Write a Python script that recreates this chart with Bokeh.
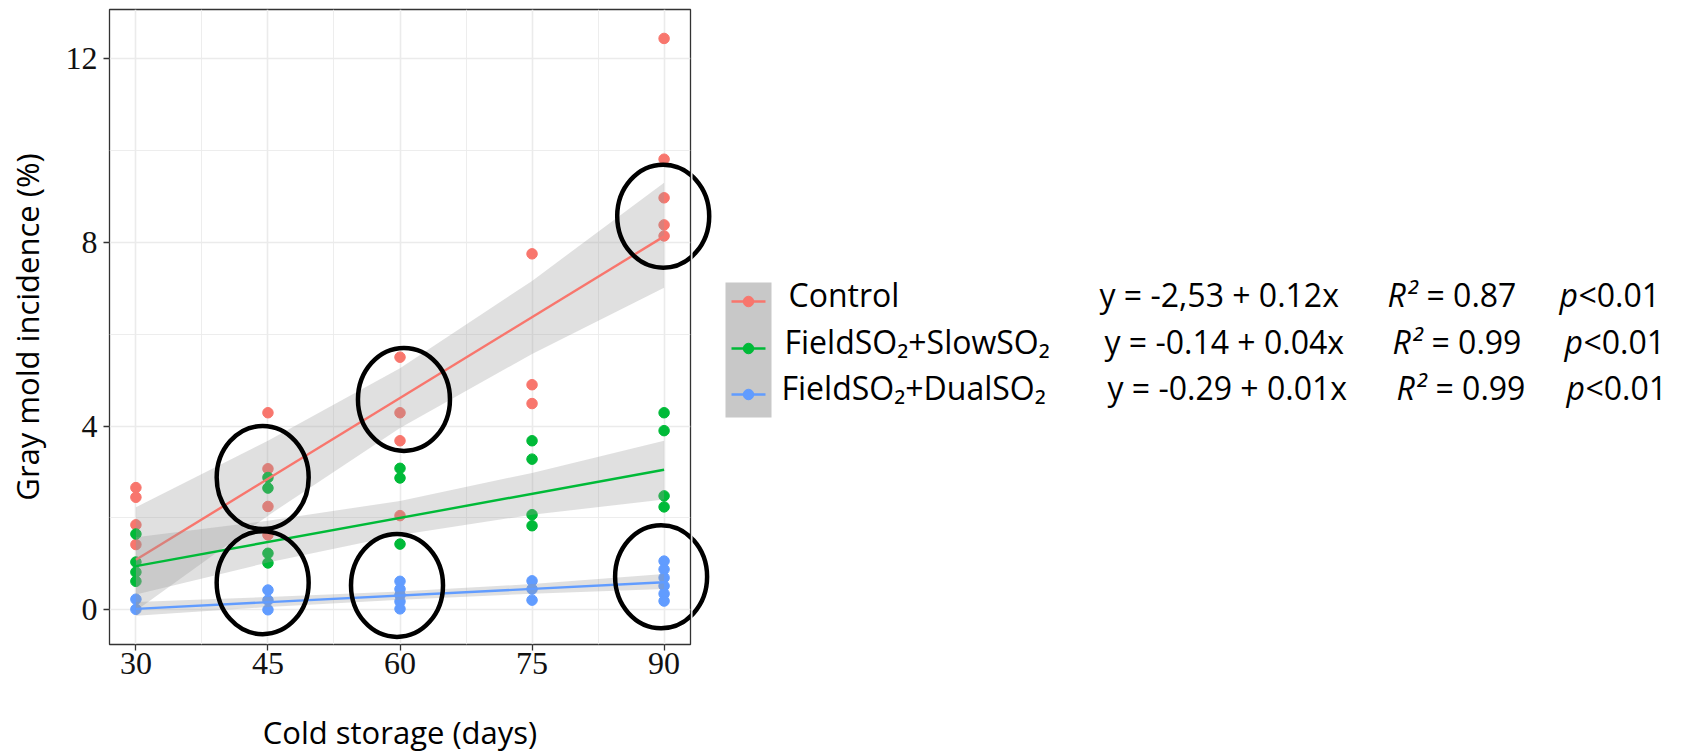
from bokeh.plotting import figure
from bokeh.layouts import row
from bokeh.models import Range1d, FixedTicker, Label
from bokeh.embed import file_html
from bokeh.resources import INLINE

# ---------------- data ----------------
days = [30, 45, 60, 75, 90]
x_minor = [37.5, 52.5, 67.5, 82.5]
y_ticks = [0, 4, 8, 12]
y_minor = [2, 6, 10]

control_x = [30, 30, 30, 30, 45, 45, 45, 45, 60, 60, 60, 60, 75, 75, 75, 90, 90, 90, 90, 90]
control_y = [2.66, 2.45, 1.85, 1.42, 4.29, 3.07, 2.25, 1.63, 5.50, 4.29, 3.68, 2.05,
             7.75, 4.90, 4.49, 12.44, 9.81, 8.97, 8.38, 8.14]
slow_x = [30, 30, 30, 30, 45, 45, 45, 45, 60, 60, 60, 75, 75, 75, 75, 90, 90, 90, 90]
slow_y = [1.65, 1.04, 0.82, 0.62, 2.88, 2.65, 1.23, 1.02, 3.08, 2.87, 1.43,
          3.68, 3.28, 2.07, 1.83, 4.29, 3.90, 2.48, 2.24]
dual_x = [30, 30, 45, 45, 45, 60, 60, 60, 60, 60, 75, 75, 75, 90, 90, 90, 90, 90, 90]
dual_y = [0.23, 0.01, 0.43, 0.21, 0.0, 0.62, 0.45, 0.32, 0.18, 0.02,
          0.63, 0.45, 0.21, 1.06, 0.88, 0.70, 0.52, 0.35, 0.19]

# fitted lines (ends) and confidence ribbons at each storage day
fit_x = [30, 90]
control_fit = [1.09, 8.13]
slow_fit = [0.95, 3.05]
dual_fit = [0.02, 0.60]
control_lo = [-0.02, 2.05, 3.96, 5.57, 7.01]
control_hi = [2.23, 3.68, 5.26, 7.16, 9.30]
slow_lo = [0.33, 1.03, 1.63, 2.07, 2.40]
slow_hi = [1.58, 1.94, 2.37, 2.98, 3.68]
dual_lo = [-0.13, 0.06, 0.22, 0.35, 0.45]
dual_hi = [0.17, 0.28, 0.40, 0.56, 0.78]

# hand-drawn rings (centre in data units)
ring_x = [44.4, 60.45, 44.4, 59.66, 89.9, 89.66]
ring_y = [2.88, 4.58, 0.59, 0.53, 8.57, 0.72]

groups = ["Control", "FieldSO\u2082+SlowSO\u2082", "FieldSO\u2082+DualSO\u2082"]
equations = ["y = -2,53 + 0.12x", "y = -0.14 + 0.04x", "y = -0.29 + 0.01x"]
r2_values = ["0.87", "0.99", "0.99"]
p_values = ["<0.01", "<0.01", "<0.01"]

# ---------------- styling / layout ----------------
RED, GREEN, BLUE = "#F8766D", "#00BA38", "#619CFF"
COLORS = [RED, GREEN, BLUE]
SANS = "Open Sans"
SERIF = "Liberation Serif"

X0, X1 = 27, 93
Y0, Y1 = -0.756, 13.07
MARGIN_X = 4           # observed horizontal page offset of the layout
FRAME_L, FRAME_T, FRAME_W, FRAME_H = 109, 9, 581, 635
FIG_H = 750
BORDER_B = FIG_H - FRAME_T - FRAME_H
GAP = 2
RIGHT_W = 977
PX_PER_DAY = FRAME_W / (X1 - X0)

yr = Range1d(Y0, Y1)

p = figure(width=FRAME_L + FRAME_W + GAP, height=FIG_H,
           frame_width=FRAME_W, frame_height=FRAME_H,
           min_border_left=FRAME_L, min_border_top=FRAME_T,
           min_border_right=GAP, min_border_bottom=BORDER_B,
           x_range=Range1d(X0, X1), y_range=yr,
           output_backend="svg", toolbar_location=None)

p.background_fill_color = "white"
p.border_fill_color = "white"
p.outline_line_color = "#333333"
p.outline_line_width = 1.3

p.xaxis.ticker = FixedTicker(ticks=days, minor_ticks=x_minor)
p.yaxis.ticker = FixedTicker(ticks=y_ticks, minor_ticks=y_minor)
for g in (p.xgrid, p.ygrid):
    g.grid_line_color = "#EBEBEB"
    g.grid_line_width = 1.6
    g.minor_grid_line_color = "#EBEBEB"
    g.minor_grid_line_width = 0.9

for ax in (p.xaxis, p.yaxis):
    ax.axis_line_color = None
    ax.major_tick_line_color = "#333333"
    ax.major_tick_line_width = 1.3
    ax.major_tick_in = 0
    ax.major_tick_out = 6
    ax.minor_tick_line_color = None
    ax.major_label_text_font = SERIF
    ax.major_label_text_font_size = "32px"
    ax.major_label_text_color = "#111111"
    ax.axis_label_text_font = SANS
    ax.axis_label_text_font_size = "31px"
    ax.axis_label_text_font_style = "normal"
    ax.axis_label_text_color = "#000000"

p.xaxis.axis_label = "Cold storage (days)"
p.yaxis.axis_label = "Gray mold incidence (%)"
p.xaxis.major_label_standoff = 2
p.yaxis.major_label_standoff = 6
p.xaxis.axis_label_standoff = 34
p.yaxis.axis_label_standoff = 15

# points first (as in ggplot), then smooths
p.scatter(control_x, control_y, size=10.5, color=RED)
p.scatter(slow_x, slow_y, size=10.5, color=GREEN)
p.scatter(dual_x, dual_y, size=10.5, color=BLUE)

for lo, hi, fit, col in ((control_lo, control_hi, control_fit, RED),
                         (slow_lo, slow_hi, slow_fit, GREEN),
                         (dual_lo, dual_hi, dual_fit, BLUE)):
    p.varea(x=days, y1=lo, y2=hi, fill_color="#999999", fill_alpha=0.3)
    p.line(fit_x, fit, line_color=col, line_width=2.4)

RING = dict(width=92, height=103, width_units="screen", height_units="screen",
            fill_color=None, line_color="black", line_width=4.5)
p.ellipse(x=ring_x, y=ring_y, **RING)

# ---------------- right-hand panel: legend and statistics ----------------
x_start = X1 + GAP / PX_PER_DAY
p2 = figure(width=RIGHT_W, height=FIG_H, frame_width=RIGHT_W, frame_height=FRAME_H,
            min_border_left=0, min_border_right=0, min_border_top=FRAME_T,
            min_border_bottom=BORDER_B,
            x_range=Range1d(x_start, x_start + RIGHT_W / PX_PER_DAY), y_range=yr,
            x_axis_type=None, y_axis_type=None,
            output_backend="svg", toolbar_location=None)
p2.outline_line_color = None
p2.background_fill_color = "white"
p2.border_fill_color = "white"

# continuation of the rings that cross the panel border
p2.ellipse(x=ring_x, y=ring_y, **RING)

# page-pixel coordinate system for the legend block
PAGE_LEFT = MARGIN_X + FRAME_L + FRAME_W + GAP
PAGE_TOP = FRAME_T
PAGE_BOTTOM = FRAME_T + FRAME_H
p2.extra_x_ranges = {"px": Range1d(PAGE_LEFT, PAGE_LEFT + RIGHT_W)}
p2.extra_y_ranges = {"px": Range1d(PAGE_BOTTOM, PAGE_TOP)}
PX = dict(x_range_name="px", y_range_name="px")

# legend keys: grey band (ggplot draws the se ribbon in the key), line and dot
key_y = [301, 348, 394]
p2.quad(left=[729], right=[775], top=[282], bottom=[417], fill_color="#C8C8C8",
        line_color=None, **PX)
p2.segment(x0=[735] * 3, x1=[769] * 3, y0=key_y, y1=key_y, line_color=COLORS,
           line_width=2.4, **PX)
p2.scatter(x=[752] * 3, y=key_y, size=10.5, color=COLORS, **PX)

LABEL_FIX = 15   # Bokeh places alphabetic-baseline labels slightly low; compensate

def add_text(txt, xp, yp, style="normal"):
    p2.add_layout(Label(x=xp - PAGE_LEFT, y=PAGE_BOTTOM - (yp - LABEL_FIX),
                        x_units="screen", y_units="screen",
                        text=txt, text_font=SANS, text_font_size="32px",
                        text_font_style=style, text_color="#000000",
                        text_baseline="alphabetic", text_align="left"))

row_base = [309, 355.5, 401.5]
name_x = [792, 788, 785]
eq_x = [1103, 1108, 1111]
r_x = [1391, 1396, 1400]
eqs_x = [1430, 1435, 1439]
pp_x = [1563, 1568, 1570]
lt_x = [1582, 1587, 1589]

for i in range(3):
    add_text(groups[i], name_x[i], row_base[i])
    add_text(equations[i], eq_x[i], row_base[i])
    add_text("R\u00b2", r_x[i], row_base[i], "italic")
    add_text("= " + r2_values[i], eqs_x[i], row_base[i])
    add_text("p", pp_x[i], row_base[i], "italic")
    add_text(p_values[i], lt_x[i], row_base[i])

layout = row(p, p2, spacing=0)
open("out.html", "w").write(file_html(layout, INLINE))
